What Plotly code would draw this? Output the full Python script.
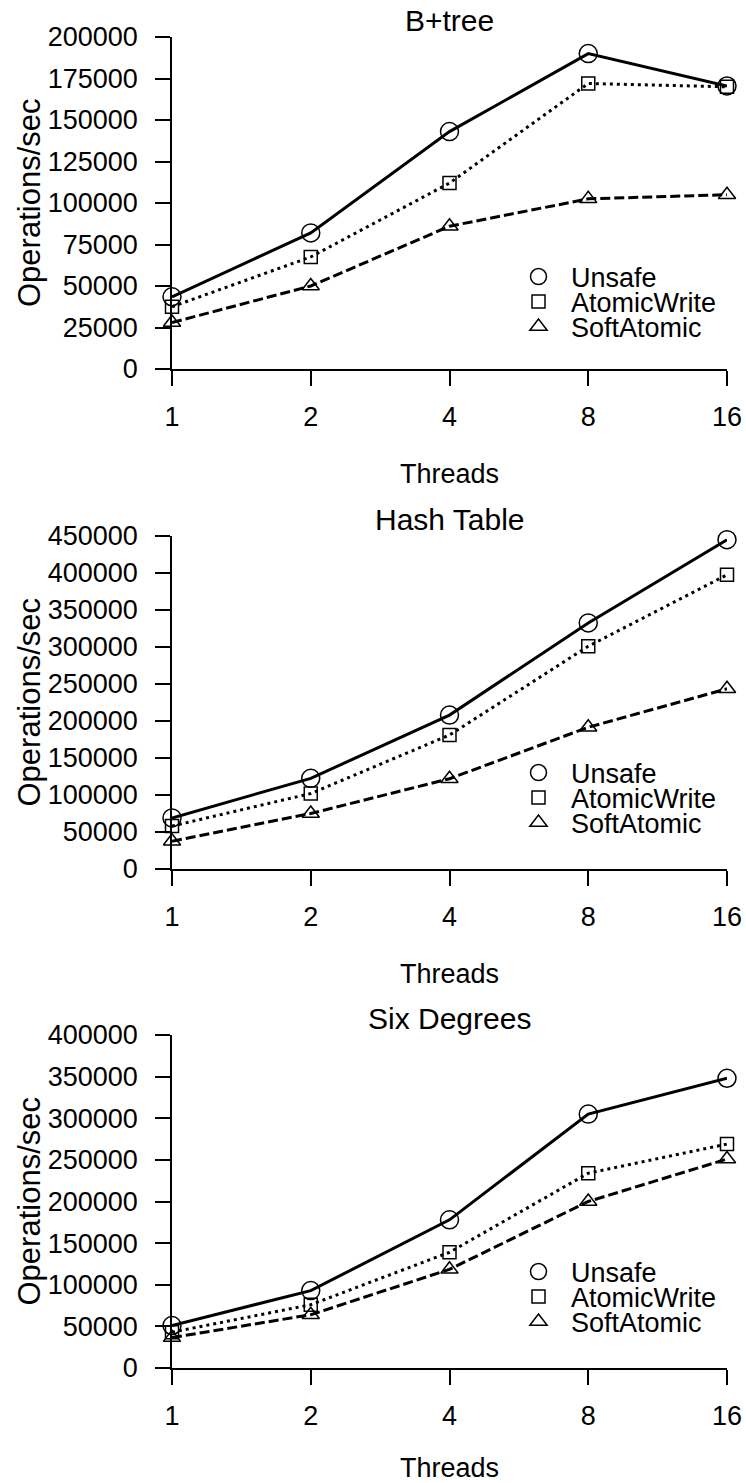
import plotly.graph_objects as go

# ---------------- data ----------------
threads = [1, 2, 4, 8, 16]
thread_labels = ["1", "2", "4", "8", "16"]
series_names = ["Unsafe", "AtomicWrite", "SoftAtomic"]
panel_titles = ["B+tree", "Hash Table", "Six Degrees"]

btree_unsafe = [43500, 82000, 143000, 190000, 170500]
btree_atomic = [37500, 67500, 112000, 172000, 170000]
btree_soft = [28000, 50000, 86000, 102500, 105000]

hash_unsafe = [69000, 122500, 208000, 332500, 445000]
hash_atomic = [58000, 102000, 181000, 301000, 397500]
hash_soft = [37500, 75000, 122000, 191500, 243500]

six_unsafe = [51000, 93000, 178000, 305000, 348000]
six_atomic = [43000, 76000, 139000, 234000, 269000]
six_soft = [36500, 64000, 118500, 200000, 251000]

y_max = [200000, 450000, 400000]
y_step = [25000, 50000, 50000]

panels = [
    [btree_unsafe, btree_atomic, btree_soft],
    [hash_unsafe, hash_atomic, hash_soft],
    [six_unsafe, six_atomic, six_soft],
]

# ---------------- styling ----------------
W, H = 746, 1483
FONT = "Liberation Sans, Arial, Helvetica, sans-serif"
FS = 27
FS_TITLE = 30
FS_YTITLE = 31
x_left, x_right = 172, 727
panel_top = [37, 536, 1035]
panel_zero = [369, 869, 1368]
legend_first_y = [277, 773, 1272]
legend_step = 25

symbols = ["circle-open", "square-open", "triangle-up-open"]
msizes = [18, 13, 15]
dashes = ["solid", "3px,4px", "10px,4px"]


def px_x(p):
    return p / W


def px_y(p):
    return 1 - p / H


fig = go.Figure()
layout = dict(
    width=W,
    height=H,
    margin=dict(l=0, r=0, t=0, b=0),
    paper_bgcolor="white",
    plot_bgcolor="white",
    font=dict(family=FONT, size=FS, color="black"),
    showlegend=True,
    annotations=[],
)

legend_idx = 0
for i, data in enumerate(panels):
    ax = "" if i == 0 else str(i + 1)
    xa, ya = "x" + ax, "y" + ax
    for j, ys in enumerate(data):
        fig.add_trace(
            go.Scatter(
                x=threads,
                y=ys,
                xaxis=xa,
                yaxis=ya,
                mode="lines+markers",
                line=dict(color="black", width=3, dash=dashes[j]),
                marker=dict(symbol=symbols[j], size=msizes[j], color="black",
                            line=dict(width=1.5, color="black")),
                cliponaxis=False,
                showlegend=False,
                name=series_names[j],
            )
        )
        # legend-only entry (marker only, like the reference key)
        legend_idx += 1
        lname = "legend" if legend_idx == 1 else "legend%d" % legend_idx
        fig.add_trace(
            go.Scatter(
                x=[None],
                y=[None],
                xaxis=xa,
                yaxis=ya,
                mode="markers",
                marker=dict(symbol=symbols[j], size=msizes[j], color="black",
                            line=dict(width=1.5, color="black")),
                name=series_names[j],
                legend=lname,
                showlegend=True,
            )
        )
        layout[lname] = dict(
            x=px_x(506),
            xanchor="left",
            y=px_y(legend_first_y[i] + j * legend_step),
            yanchor="middle",
            bgcolor="rgba(0,0,0,0)",
            borderwidth=0,
            itemwidth=55,
            font=dict(family=FONT, size=FS, color="black"),
        )

    dom_y = [px_y(panel_zero[i]), px_y(panel_top[i])]
    layout["xaxis" + ax] = dict(
        type="log",
        domain=[px_x(x_left), px_x(x_right)],
        range=[0, 1.2041199826559248],
        anchor=ya,
        tickvals=threads,
        ticktext=thread_labels,
        ticks="outside",
        ticklen=15,
        tickwidth=1.5,
        tickcolor="black",
        showline=True,
        linecolor="black",
        linewidth=1.5,
        showgrid=False,
        zeroline=False,
        ticklabelstandoff=8,
        tickfont=dict(family=FONT, size=FS, color="black"),
        title=dict(text="Threads", standoff=33,
                   font=dict(family=FONT, size=FS, color="black")),
        automargin=False,
    )
    layout["yaxis" + ax] = dict(
        domain=dom_y,
        range=[0, y_max[i]],
        anchor=xa,
        dtick=y_step[i],
        tick0=0,
        tickformat="d",
        ticks="outside",
        ticklen=15,
        tickwidth=1.5,
        tickcolor="black",
        showline=True,
        linecolor="black",
        linewidth=1.5,
        showgrid=False,
        zeroline=False,
        ticklabelstandoff=12,
        tickfont=dict(family=FONT, size=FS, color="black"),
        automargin=False,
    )
    layout["annotations"].append(dict(
        text=panel_titles[i], xref="paper", yref="paper",
        x=px_x((x_left + x_right) / 2), y=px_y(panel_top[i] - 17),
        xanchor="center", yanchor="middle", showarrow=False,
        font=dict(family=FONT, size=FS_TITLE, color="black"),
    ))
    layout["annotations"].append(dict(
        text="Operations/sec", xref="paper", yref="paper", textangle=-90,
        x=px_x(29), y=px_y((panel_top[i] + panel_zero[i]) / 2),
        xanchor="center", yanchor="middle", showarrow=False,
        font=dict(family=FONT, size=FS_YTITLE, color="black"),
    ))

fig.update_layout(**layout)
fig.write_html("out.html")
